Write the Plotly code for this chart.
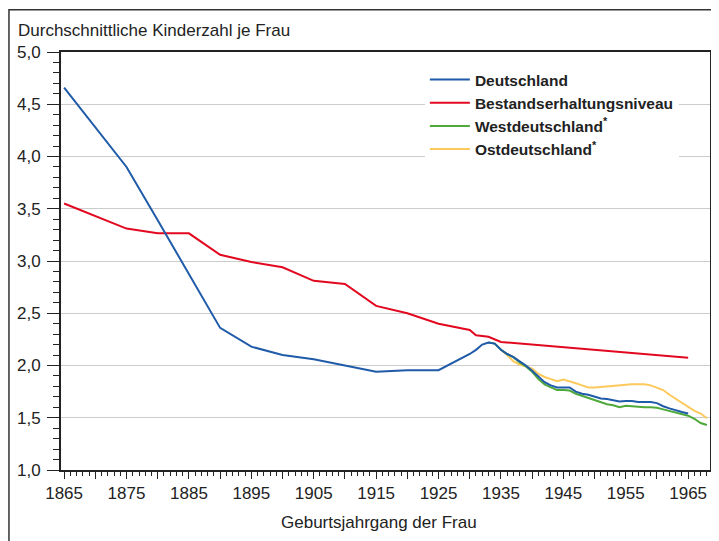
import plotly.graph_objects as go

# Deutschland
de_years = [1865, 1875, 1880, 1885, 1890, 1895, 1900, 1905, 1910, 1915, 1920, 1925,
            1930, 1931, 1932, 1933, 1934, 1935, 1936, 1937, 1938, 1939, 1940, 1941,
            1942, 1943, 1944, 1945, 1946, 1947, 1948, 1949, 1950, 1951, 1952, 1953,
            1954, 1955, 1956, 1957, 1958, 1959, 1960, 1961, 1962, 1963, 1964, 1965]
de_values = [4.66, 3.90, 3.39, 2.87, 2.36, 2.18, 2.10, 2.06, 2.00, 1.94, 1.955, 1.955,
             2.11, 2.15, 2.20, 2.22, 2.21, 2.15, 2.11, 2.08, 2.04, 2.00, 1.95, 1.89,
             1.84, 1.81, 1.79, 1.79, 1.79, 1.75, 1.73, 1.72, 1.70, 1.685, 1.68, 1.67,
             1.655, 1.66, 1.66, 1.65, 1.65, 1.65, 1.64, 1.61, 1.59, 1.57, 1.555, 1.54]

# Bestandserhaltungsniveau
be_years = [1865, 1875, 1880, 1885, 1890, 1895, 1900, 1905, 1910, 1915, 1920, 1925,
            1930, 1931, 1933, 1935, 1965]
be_values = [3.55, 3.31, 3.265, 3.265, 3.06, 2.99, 2.94, 2.81, 2.78, 2.57, 2.50, 2.40,
             2.34, 2.29, 2.275, 2.225, 2.075]

# Westdeutschland
west_years = list(range(1933, 1969))
west_values = [2.22, 2.21, 2.15, 2.11, 2.08, 2.03, 1.99, 1.94, 1.87, 1.82, 1.79, 1.765,
               1.765, 1.76, 1.73, 1.71, 1.69, 1.67, 1.645, 1.63, 1.62, 1.60, 1.615, 1.61,
               1.60, 1.60, 1.60, 1.595, 1.58, 1.565, 1.55, 1.535, 1.52, 1.49, 1.45, 1.43]

# Ostdeutschland
east_years = list(range(1935, 1969))
east_values = [2.15, 2.10, 2.04, 2.01, 1.99, 1.97, 1.92, 1.89, 1.87, 1.85, 1.865, 1.85,
               1.83, 1.81, 1.79, 1.79, 1.795, 1.80, 1.807, 1.81, 1.815, 1.82, 1.82, 1.82,
               1.81, 1.79, 1.765, 1.72, 1.68, 1.64, 1.60, 1.565, 1.54, 1.495]

x_tickvals = list(range(1865, 1970, 5))
x_ticktext = [str(v) if (v - 1865) % 10 == 0 else "" for v in x_tickvals]

series = [
    ("Deutschland", de_years, de_values, "#1f5ba8"),
    ("Bestandserhaltungsniveau", be_years, be_values, "#e2081f"),
    ("Westdeutschland<sup>*</sup>", west_years, west_values, "#4ea93a"),
    ("Ostdeutschland<sup>*</sup>", east_years, east_values, "#fcc95c"),
]

fig = go.Figure()
# draw order: west/east beneath Deutschland
for idx in [3, 2, 1, 0]:
    name, xs, ys, col = series[idx]
    fig.add_trace(go.Scatter(x=xs, y=ys, mode="lines", name=name,
                             line=dict(color=col, width=2), legendrank=idx + 1))

# page body has an 8px margin; the figure is offset accordingly
OFF = 8
W, H = 719 - OFF, 541 - OFF
PL, PR, PT, PB = 61, 712, 52, 470          # plot area in page pixels
L, T = PL - OFF, PT - OFF
R, B = W - (PR - OFF), H - (PB - OFF)
pw, ph = PR - PL, PB - PT

def px(xp):
    return (xp - PL) / pw

def py(yp):
    return (PB - yp) / ph

fig.update_layout(
    width=W, height=H,
    margin=dict(l=L, r=R, t=T, b=B, pad=0),
    paper_bgcolor="white", plot_bgcolor="white",
    separators=",.",
    font=dict(family="Liberation Sans, Arial, sans-serif", size=17, color="#222"),
    showlegend=True,
    legend=dict(x=px(426), y=py(63), xanchor="left", yanchor="top",
                bgcolor="white", borderwidth=0,
                font=dict(size=15.5, color="#222", weight="bold"),
                tracegroupgap=0, itemwidth=40),
    xaxis=dict(range=[1864.5, 1968.5], tickmode="array", tickvals=x_tickvals,
               ticktext=x_ticktext, ticks="outside", ticklen=7, tickwidth=1,
               tickcolor="#222", showgrid=False, zeroline=False,
               showline=True, linecolor="#222", linewidth=2, mirror=True,
               tickfont=dict(size=17),
               minor=dict(dtick=1, tick0=1865, ticks="outside", ticklen=4,
                          tickcolor="#222", tickwidth=1, showgrid=False)),
    yaxis=dict(range=[1, 5], dtick=0.5, tick0=1, tickformat=".1f",
               ticks="outside", ticklen=12, tickwidth=1, tickcolor="#222",
               ticklabelstandoff=3,
               showgrid=True, gridcolor="#cccccc", gridwidth=1, zeroline=False,
               showline=True, linecolor="#222", linewidth=2, mirror=True,
               tickfont=dict(size=17),
               minor=dict(dtick=0.1, ticks="outside", ticklen=6,
                          tickcolor="#222", tickwidth=1, showgrid=False)),
)

fig.add_annotation(text="Durchschnittliche Kinderzahl je Frau", xref="paper", yref="paper",
                   x=px(16), y=py(31), xanchor="left", yanchor="middle",
                   showarrow=False, font=dict(size=17, color="#222"))
fig.add_annotation(text="Geburtsjahrgang der Frau", xref="paper", yref="paper",
                   x=px(380), y=py(522), xanchor="center", yanchor="middle",
                   showarrow=False, font=dict(size=17, color="#222"))
fig.add_shape(type="rect", xref="paper", yref="paper",
              x0=px(8.8), y0=py(580), x1=px(760), y1=py(9.8),
              line=dict(color="#333", width=1.5), layer="below")

fig.write_html("out.html")
